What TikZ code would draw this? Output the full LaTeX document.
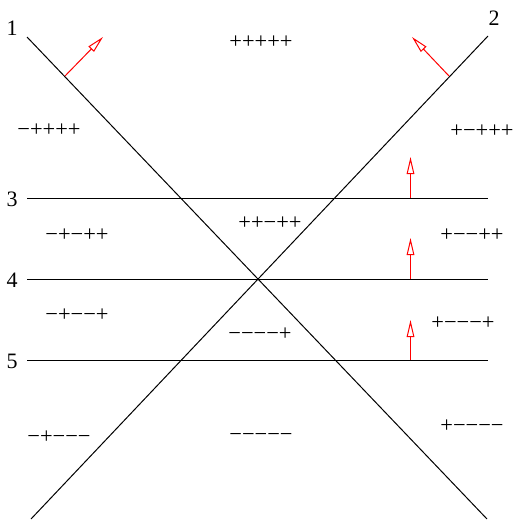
\documentclass[tikz,border=0pt]{standalone}
\usepackage{fontspec}
\setmainfont{Liberation Serif}
\usetikzlibrary{arrows.meta}

\begin{document}
\begin{tikzpicture}[
x=0.5pt, y=-0.5pt,
plane/.style={black, line width=0.5pt},
normal/.style={red, line width=0.5pt, -{Triangle[open, length=8.5pt, width=3.8pt]}},
sign/.style={inner sep=0pt, font=\fontsize{11.2}{13}\selectfont},
num/.style={inner sep=0pt, font=\fontsize{11}{13}\selectfont}
]
\useasboundingbox (0,0) rectangle (514,520);

\coordinate (p1a) at (27,37);
\coordinate (p1b) at (487,519);
\coordinate (p2a) at (488,36);
\coordinate (p2b) at (31,519);
\coordinate (p3a) at (27,198);
\coordinate (p3b) at (488,198);
\coordinate (p4a) at (27,279);
\coordinate (p4b) at (488,279);
\coordinate (p5a) at (27,360);
\coordinate (p5b) at (488,360);

\node[num] (n1) at (12,28) {1};
\node[num] (n2) at (494,18) {2};
\node[num] (n3) at (12,199) {3};
\node[num] (n4) at (12,280) {4};
\node[num] (n5) at (12,361) {5};

\draw[plane] (p1a) -- (p1b);
\draw[plane] (p2a) -- (p2b);
\draw[plane] (p3a) -- (p3b);
\draw[plane] (p4a) -- (p4b);
\draw[plane] (p5a) -- (p5b);

% normals
\coordinate (b1) at (65,76);
\coordinate (t1) at (103,37);
\coordinate (b2) at (449,76);
\coordinate (t2) at (412,37);
\coordinate (b3) at (410.5,198);
\coordinate (t3) at (410.5,157);
\coordinate (b4) at (410.5,279);
\coordinate (t4) at (410.5,238);
\coordinate (b5) at (410.5,360);
\coordinate (t5) at (410.5,320);
\draw[normal] (b1) -- (t1);
\draw[normal] (b2) -- (t2);
\draw[normal] (b3) -- (t3);
\draw[normal] (b4) -- (t4);
\draw[normal] (b5) -- (t5);

% sign vectors of the regions
\node[sign] (s1) at (261,42) {+++++};
\node[sign] (s2) at (49,130) {−++++};
\node[sign] (s3) at (482,131) {+−+++};
\node[sign] (s4) at (77,235) {−+−++};
\node[sign] (s5) at (270,223) {++−++};
\node[sign] (s6) at (472,235) {+−−++};
\node[sign] (s7) at (77,315) {−+−−+};
\node[sign] (s8) at (260,334) {−−−−+};
\node[sign] (s9) at (463,323) {+−−−+};
\node[sign] (s10) at (59,437) {−+−−−};
\node[sign] (s11) at (261,437) {−−−−−};
\node[sign] (s12) at (472,426) {+−−−−};

\end{tikzpicture}
\end{document}
